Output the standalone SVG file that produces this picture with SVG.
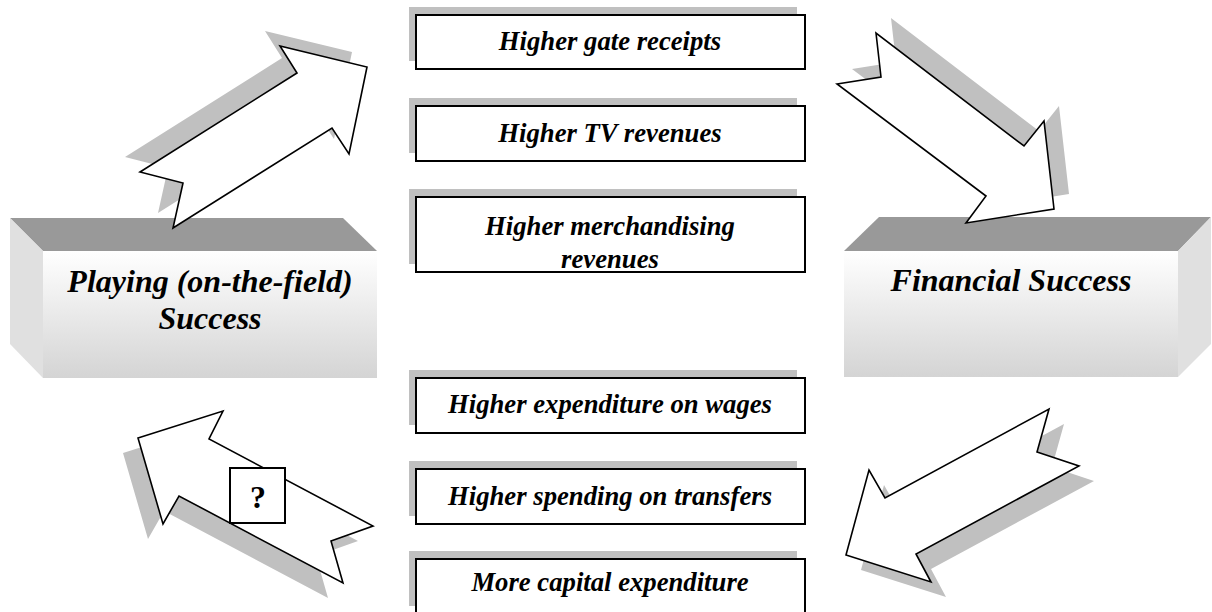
<svg xmlns="http://www.w3.org/2000/svg" width="1212" height="612" viewBox="0 0 1212 612">
  <defs>
    <linearGradient id="frontFace" x1="0" y1="0" x2="0" y2="1">
      <stop offset="0" stop-color="#ffffff"/>
      <stop offset="1" stop-color="#d4d4d4"/>
    </linearGradient>
  </defs>
  <style>
    text { font-family: "Liberation Serif", "Times New Roman", serif; font-weight: bold; font-style: italic; fill: #000; text-anchor: middle; }
    .big { font-size: 32px; }
    .small { font-size: 26.7px; }
    .q { font-size: 32px; font-style: normal; }
    .top { fill: #999999; }
    .side { fill: #e0e0e0; }
    .front { fill: url(#frontFace); }
    .shadow { fill: #c0c0c0; }
    .box { fill: #ffffff; stroke: #000; stroke-width: 2; }
    .arrow { fill: #ffffff; stroke: #000; stroke-width: 1.6; stroke-linejoin: miter; }
  </style>
  <rect width="1212" height="612" fill="#ffffff"/>

  <!-- left 3D block -->
  <g id="playing-success">
    <polygon class="top" points="10,218 343,218 377,251 43,251"/>
    <polygon class="side" points="10,218 43,251 43,378 10,344"/>
    <rect class="front" x="43" y="251" width="334" height="127"/>
    <text class="big" x="210" y="292">Playing (on-the-field)</text>
    <text class="big" x="210" y="329">Success</text>
  </g>

  <!-- right 3D block -->
  <g id="financial-success">
    <polygon class="top" points="879,217 1211,217 1178,251 844,251"/>
    <polygon class="side" points="1178,251 1211,217 1211,344 1178,377"/>
    <rect class="front" x="844" y="251" width="334" height="126"/>
    <text class="big" x="1011" y="291">Financial Success</text>
  </g>

  <!-- revenue boxes -->
  <g id="gate-receipts">
    <rect class="shadow" x="409" y="7" width="388" height="54"/>
    <rect class="box" x="416" y="15" width="389" height="54"/>
    <text class="small" x="610" y="50">Higher gate receipts</text>
  </g>
  <g id="tv-revenues">
    <rect class="shadow" x="409" y="98" width="388" height="55"/>
    <rect class="box" x="416" y="106" width="389" height="55"/>
    <text class="small" x="610" y="142">Higher TV revenues</text>
  </g>
  <g id="merchandising-revenues">
    <rect class="shadow" x="409" y="189" width="388" height="75"/>
    <rect class="box" x="416" y="197" width="389" height="75"/>
    <text class="small" x="610" y="235">Higher merchandising</text>
    <text class="small" x="610" y="268">revenues</text>
  </g>

  <!-- expenditure boxes -->
  <g id="wages">
    <rect class="shadow" x="409" y="370" width="388" height="55"/>
    <rect class="box" x="416" y="378" width="389" height="55"/>
    <text class="small" x="610" y="413">Higher expenditure on wages</text>
  </g>
  <g id="transfers">
    <rect class="shadow" x="409" y="461" width="388" height="55"/>
    <rect class="box" x="416" y="469" width="389" height="55"/>
    <text class="small" x="610" y="505">Higher spending on transfers</text>
  </g>
  <g id="capital">
    <rect class="shadow" x="409" y="551" width="388" height="55"/>
    <rect class="box" x="416" y="559" width="389" height="55"/>
    <text class="small" x="610" y="591">More capital expenditure</text>
  </g>

  <!-- block arrows linking the two kinds of success -->
  <g id="connectors">
    <g id="arrow-playing-to-revenue">
      <polygon class="shadow" transform="translate(-15,-15)" points="297,73 140,172 183,183 173,228 332,128 349,154 367,67 280,46"/>
      <polygon class="arrow" points="297,73 140,172 183,183 173,228 332,128 349,154 367,67 280,46"/>
    </g>
    <g id="arrow-revenue-to-financial">
      <polygon class="shadow" transform="translate(15,-15)" points="837,84 881,77 876,33 1024,146 1044,121 1054,209 966,223 986,196"/>
      <polygon class="arrow" points="837,84 881,77 876,33 1024,146 1044,121 1054,209 966,223 986,196"/>
    </g>
    <g id="arrow-financial-to-spending">
      <polygon class="shadow" transform="translate(15,15)" points="846,555 869,470 885,498 1049,409 1037,452 1079,466 916,554 931,582"/>
      <polygon class="arrow" points="846,555 869,470 885,498 1049,409 1037,452 1079,466 916,554 931,582"/>
    </g>
    <g id="arrow-spending-to-playing">
      <polygon class="shadow" transform="translate(-15,15)" points="138,438 223,411 209,439 373,526 331,541 343,583 179,496 163,524"/>
      <polygon class="arrow" points="138,438 223,411 209,439 373,526 331,541 343,583 179,496 163,524"/>
    </g>
  </g>

  <!-- question mark label on the return arrow -->
  <g id="question">
    <rect class="box" x="230" y="468" width="55" height="55" stroke-width="1.6"/>
    <text class="q" x="258" y="508">?</text>
  </g>
</svg>
